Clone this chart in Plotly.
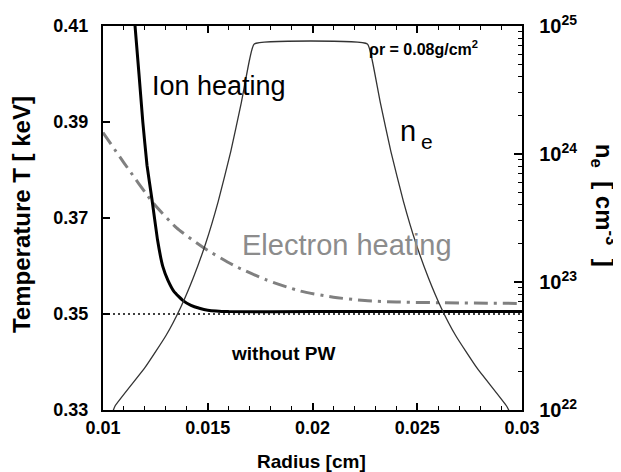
import plotly.graph_objects as go

# ---- data ----
# Ion heating temperature (keV) vs radius (cm)
ion_r = [0.01125, 0.01153, 0.0119, 0.0121, 0.01234, 0.0126, 0.01286, 0.0131, 0.0134, 0.01382, 0.0142, 0.0146, 0.0150, 0.0160, 0.0200, 0.0250, 0.0300]
ion_T = [0.4200, 0.4100, 0.3900, 0.3810, 0.3738, 0.3655, 0.3598, 0.3570, 0.3546, 0.3528, 0.3518, 0.3512, 0.3508, 0.3505, 0.3505, 0.3505, 0.3505]

# Electron heating temperature (keV) vs radius (cm)
ele_r = [0.0100, 0.0110, 0.0124, 0.0135, 0.0148, 0.0163, 0.0178, 0.0194, 0.0210, 0.0225, 0.0240, 0.0270, 0.0300]
ele_T = [0.3878, 0.3815, 0.3731, 0.3680, 0.3638, 0.3600, 0.3571, 0.3548, 0.3535, 0.3528, 0.3525, 0.3523, 0.3522]

# Baseline without PW
base_r = [0.010, 0.030]
base_T = [0.350, 0.350]

# Electron density (cm^-3) vs radius (cm)
ne_r = [0.01040, 0.01057, 0.01200, 0.01300, 0.01370, 0.01430, 0.01490, 0.01550, 0.01610, 0.01660, 0.01700, 0.01722,
        0.02262, 0.02284, 0.02324, 0.02374, 0.02434, 0.02494, 0.02554, 0.02614, 0.02684, 0.02784, 0.02927, 0.02950]
ne = [9.0e21, 1.07e22, 2.14e22, 3.8e22, 6.3e22, 1.07e23, 2.0e23, 4.27e23, 1.05e24, 2.51e24, 5.5e24, 7.24e24,
      7.24e24, 5.5e24, 2.51e24, 1.05e24, 4.27e23, 2.0e23, 1.07e23, 6.3e22, 3.8e22, 2.14e22, 1.07e22, 9.0e21]

x_ticks = [0.01, 0.015, 0.02, 0.025, 0.03]
x_ticktext = ["0.01", "0.015", "0.02", "0.025", "0.03"]
y_ticks = [0.33, 0.35, 0.37, 0.39, 0.41]
y_ticktext = ["0.33", "0.35", "0.37", "0.39", "0.41"]

FONT = "Liberation Sans, Arial, Helvetica, sans-serif"

fig = go.Figure()

fig.add_trace(go.Scatter(x=ne_r, y=ne, yaxis="y2", mode="lines",
                         line=dict(color="#333333", width=1.3, shape="spline", smoothing=0.4),
                         showlegend=False, hoverinfo="skip"))
fig.add_trace(go.Scatter(x=base_r, y=base_T, mode="lines",
                         line=dict(color="black", width=1.3, dash="2px,3px"),
                         showlegend=False, hoverinfo="skip"))
fig.add_trace(go.Scatter(x=ele_r, y=ele_T, mode="lines",
                         line=dict(color="#808080", width=3, dash="14px,6px,3px,6px", shape="spline", smoothing=0.6),
                         showlegend=False, hoverinfo="skip"))
fig.add_trace(go.Scatter(x=ion_r, y=ion_T, mode="lines",
                         line=dict(color="black", width=3, shape="spline", smoothing=0.3),
                         showlegend=False, hoverinfo="skip"))

axis_common = dict(showgrid=False, zeroline=False, showline=True, linecolor="black", linewidth=2,
                   ticks="inside", tickcolor="black", tickwidth=1.5)
tick_font = dict(family=FONT, size=18, color="black", weight="bold")

# page body adds an 8px offset, so the figure is drawn 8px smaller with margins shifted
fig.update_layout(
    width=613, height=464,
    margin=dict(l=95, r=99, t=18, b=62, autoexpand=False),
    paper_bgcolor="white", plot_bgcolor="white",
    xaxis=dict(range=[0.01, 0.03], tickvals=x_ticks, ticktext=x_ticktext, ticklen=7, mirror="ticks",
               minor=dict(ticks="inside", dtick=0.001, tick0=0.01, ticklen=4, tickcolor="black", tickwidth=1.2),
               tickfont=tick_font, **axis_common),
    yaxis=dict(range=[0.33, 0.41], tickvals=y_ticks, ticktext=y_ticktext, ticklen=7,
               ticklabelstandoff=9, tickfont=tick_font, **axis_common),
    yaxis2=dict(type="log", range=[22, 25], overlaying="y", side="right", dtick=1,
                exponentformat="power", ticklen=8, ticklabelstandoff=12,
                minor=dict(ticks="inside", dtick="D1", ticklen=4, tickcolor="black", tickwidth=1.2),
                tickfont=dict(family=FONT, size=16, color="black", weight="bold"), **axis_common),
)

ann = [
    dict(text="Ion heating", x=0.277, y=0.844, font=dict(size=27, color="black")),
    dict(text="Electron heating", x=0.582, y=0.430, font=dict(size=29, color="#8c8c8c")),
    dict(text="n", x=0.728, y=0.727, font=dict(size=29, color="black")),
    dict(text="e", x=0.774, y=0.700, font=dict(size=21, color="black")),
    dict(text="ρr = 0.08g/cm<sup>2</sup>", x=0.765, y=0.943, font=dict(size=16, color="black", weight="bold")),
    dict(text="without PW", x=0.430, y=0.146, font=dict(size=19, color="black", weight="bold")),
    dict(text="Radius [cm]", x=0.4988, y=-0.135, font=dict(size=19, color="black", weight="bold")),
    dict(text="Temperature T [ keV]", x=-0.196, y=0.51, textangle=-90, font=dict(size=24, color="black", weight="bold")),
    dict(text="n<sub>e</sub>  [ cm<sup>-3</sup>  ]", x=1.196, y=0.534, textangle=90, font=dict(size=24, color="black", weight="bold")),
]
for a in ann:
    a.setdefault("xref", "paper")
    a.setdefault("yref", "paper")
    a.setdefault("showarrow", False)
    a.setdefault("xanchor", "center")
    a.setdefault("yanchor", "middle")
    a["font"].setdefault("family", FONT)
fig.update_layout(annotations=ann)

fig.write_html("out.html")
